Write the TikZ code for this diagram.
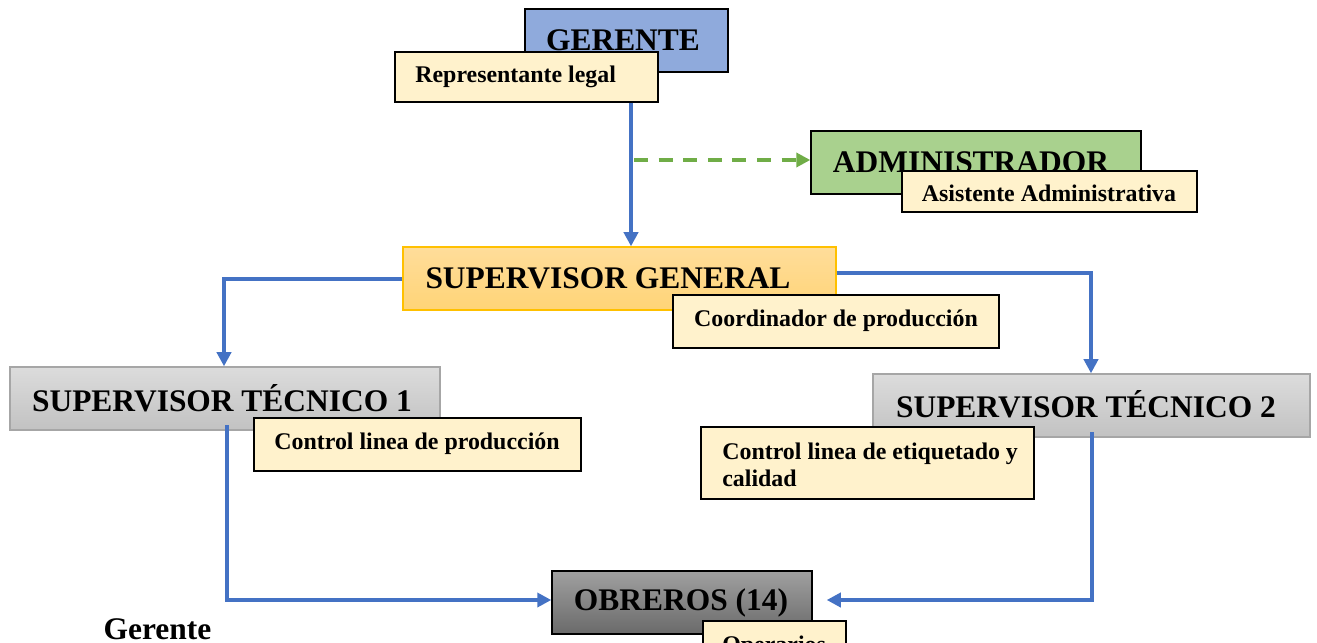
\documentclass[tikz,border=0pt]{standalone}
\usepackage{fontspec}
\setmainfont{Liberation Serif}
\usetikzlibrary{arrows.meta}
\definecolor{gerblue}{HTML}{8FAADC}
\definecolor{note}{HTML}{FFF2CC}
\definecolor{admgreen}{HTML}{A9D18E}
\definecolor{dashgreen}{HTML}{70AD47}
\definecolor{sgtop}{HTML}{FFDD9A}
\definecolor{sgbot}{HTML}{FFD477}
\definecolor{sgborder}{HTML}{FFC000}
\definecolor{linkblue}{HTML}{4472C4}
\definecolor{sttop}{HTML}{DCDCDC}
\definecolor{stbot}{HTML}{C2C2C2}
\definecolor{stborder}{HTML}{A6A6A6}
\definecolor{obtop}{HTML}{A0A0A0}
\definecolor{obbot}{HTML}{6A6A6A}
\tikzset{
  big/.style={font=\fontsize{17.9}{20}\selectfont\bfseries, inner sep=0pt},
  small/.style={font=\fontsize{13.6}{15.5}\selectfont\bfseries, inner sep=0pt},
  bx/.style={draw=black, line width=0.8pt, inner sep=0pt},
  notebox/.style={bx, fill=note},
  conn/.style={draw=linkblue, line width=2.2pt, -{Triangle[length=8pt,width=8pt]}},
  dashconn/.style={draw=dashgreen, line width=2.2pt, dash pattern=on 8pt off 6pt, -{Triangle[length=8pt,width=8pt]}},
}
\begin{document}
\begin{tikzpicture}[x=0.02cm, y=-0.02cm]
\useasboundingbox (0,0) rectangle (1317,642);
\clip (0,0) rectangle (1317,642);

% GERENTE
\node[bx, fill=gerblue, minimum width=203*0.02cm, minimum height=63*0.02cm] (GER) at (626.5,40.5) {};
\node[big] (GERt) at (623,40) {GERENTE};
\node[notebox, minimum width=263*0.02cm, minimum height=50*0.02cm] (REP) at (526.5,77) {};
\node[small, anchor=west] (REPt) at (415,77) {Representante legal};

% ADMINISTRADOR
\node[bx, fill=admgreen, minimum width=330*0.02cm, minimum height=63*0.02cm] (ADM) at (976,162.5) {};
\node[big] (ADMt) at (971,162) {ADMINISTRADOR};
\node[notebox, minimum width=295*0.02cm, minimum height=41*0.02cm] (ASI) at (1049.5,191.5) {};
\node[small] (ASIt) at (1049,193) {Asistente Administrativa};

% SUPERVISOR GENERAL
\node[draw=sgborder, line width=0.8pt, top color=sgtop, bottom color=sgbot, minimum width=433*0.02cm, minimum height=63*0.02cm, inner sep=0pt] (SG) at (619.5,278.5) {};
\node[big] (SGt) at (608,278) {SUPERVISOR GENERAL};
\node[notebox, minimum width=326*0.02cm, minimum height=53*0.02cm] (COO) at (836,321.5) {};
\node[small] (COOt) at (836,321) {Coordinador de producción};

% SUPERVISOR TECNICO 1
\node[draw=stborder, line width=0.8pt, top color=sttop, bottom color=stbot, minimum width=430*0.02cm, minimum height=63*0.02cm, inner sep=0pt] (ST1) at (225,398.5) {};
\node[big] (ST1t) at (222,398) {SUPERVISOR TÉCNICO 1};
\node[notebox, minimum width=327*0.02cm, minimum height=53*0.02cm] (CLP) at (417.5,444.5) {};
\node[small] (CLPt) at (417,444) {Control linea de producción};

% SUPERVISOR TECNICO 2
\node[draw=stborder, line width=0.8pt, top color=sttop, bottom color=stbot, minimum width=437*0.02cm, minimum height=63*0.02cm, inner sep=0pt] (ST2) at (1091.5,405.5) {};
\node[big] (ST2t) at (1086,404) {SUPERVISOR TÉCNICO 2};
\node[notebox, minimum width=333*0.02cm, minimum height=72*0.02cm] (CLE) at (867.5,463) {};
\node[small, anchor=west, align=left] (CLEt) at (722,465) {Control linea de etiquetado y\\calidad};

% OBREROS
\node[bx, top color=obtop, bottom color=obbot, minimum width=260*0.02cm, minimum height=63*0.02cm] (OBR) at (682,602.5) {};
\node[big] (OBRt) at (681,603) {OBREROS (14)};
\node[notebox, minimum width=143*0.02cm, minimum height=53*0.02cm] (OPE) at (774.5,647.5) {};
\node[small, anchor=base west] (OPEt) at (722,652) {Operarios};

% Gerente
\node[big, anchor=base] (GERLBL) at (157.5,639) {Gerente};

% connectors
\coordinate (xg) at (631,0);
\coordinate (ds) at (634,160);
\coordinate (xl) at (224,279);
\coordinate (xr) at (1091,273);
\coordinate (b1) at (227,425);
\coordinate (b2) at (1092,432);
\coordinate (yo) at (0,600);

\draw[conn] (REP.south -| xg) -- (SG.north -| xg);
\draw[dashconn] (ds) -- (ADM.west |- ds);
\draw[conn] (SG.west |- xl) -- (xl) -- (ST1.north -| xl);
\draw[conn] (SG.east |- xr) -- (xr) -- (ST2.north -| xr);
\draw[conn] (b1) -- (b1 |- yo) -- (OBR.west |- yo);
\draw[conn, shorten >=14*0.02cm] (b2) -- (b2 |- yo) -- (OBR.east |- yo);
\end{tikzpicture}
\end{document}
